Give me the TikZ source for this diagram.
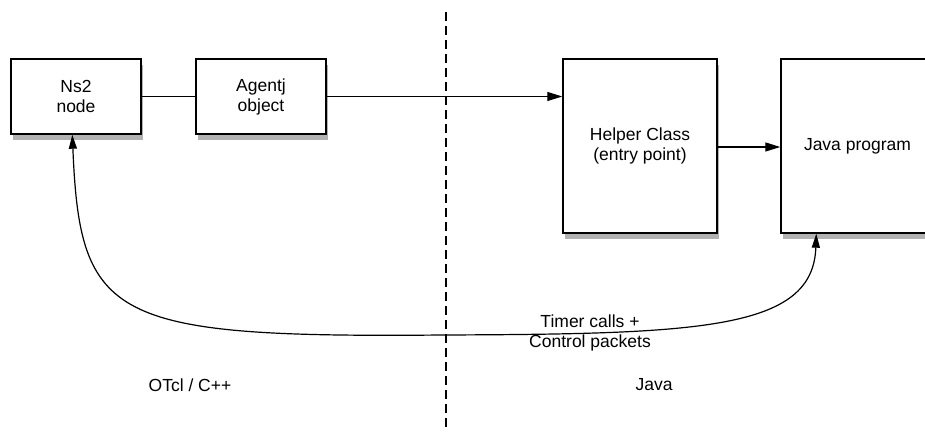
\documentclass[tikz,border=0pt]{standalone}
\usepackage{fontspec}
\setmainfont{Liberation Sans}
\usetikzlibrary{arrows.meta,shadows,calc}
\begin{document}
\begin{tikzpicture}[x=1pt,y=-1pt,
  every node/.style={font=\fontsize{17.5}{20}\selectfont},
  box/.style={draw=black,line width=1.4pt,fill=white,align=center,inner sep=0pt,
    drop shadow={shadow xshift=2pt,shadow yshift=-6pt,opacity=0.5,fill=black!60}},
  conn/.style={line width=1.2pt},
  tip/.style={-{Triangle[length=15pt,width=9pt]}},
  bitip/.style={{Triangle[length=14pt,width=8pt]}-{Triangle[length=14pt,width=8pt]}}
]
\useasboundingbox (0,0) rectangle (925,435);
\clip (0,0) rectangle (925,435);
\fill[white] (0,0) rectangle (925,435);

\node[box,minimum width=130pt,minimum height=75pt] (ns2) at (76,96.5) {Ns2\\node};
\node[box,minimum width=130pt,minimum height=75pt] (agentj) at (261,96.5) {Agentj\\object};
\node[box,minimum width=154pt,minimum height=174pt] (helper) at (640,146) {Helper Class\\(entry point)};
\node[box,minimum width=153pt,minimum height=174pt] (java) at (857.5,146) {Java program};

\coordinate (top) at (446,12);
\coordinate (bot) at (446,430);
\draw[line width=1.1pt,dash pattern=on 9pt off 5pt] (top) -- (bot);

\draw[conn] (ns2.east) -- (agentj.west);
\draw[conn,tip] (agentj.east) -- (agentj.east -| helper.west);
\draw[conn,tip] (helper.east |- 0,147) -- (java.west |- 0,147);

\coordinate (jb) at ($(java.south west)+(36,0)$);
\coordinate (nb) at ($(ns2.south west)+(62,0)$);
\coordinate (low) at (443,335);
\draw[conn,bitip] (jb) .. controls (813,330) and (700,334) .. (low)
  .. controls (110,338) and (80,320) .. (nb);

\node[align=center] (lbl) at (590,333) {Timer calls +\\Control packets};
\node (otcl) at (190,385) {OTcl / C++};
\node (jv) at (654,385) {Java};
\end{tikzpicture}
\end{document}
